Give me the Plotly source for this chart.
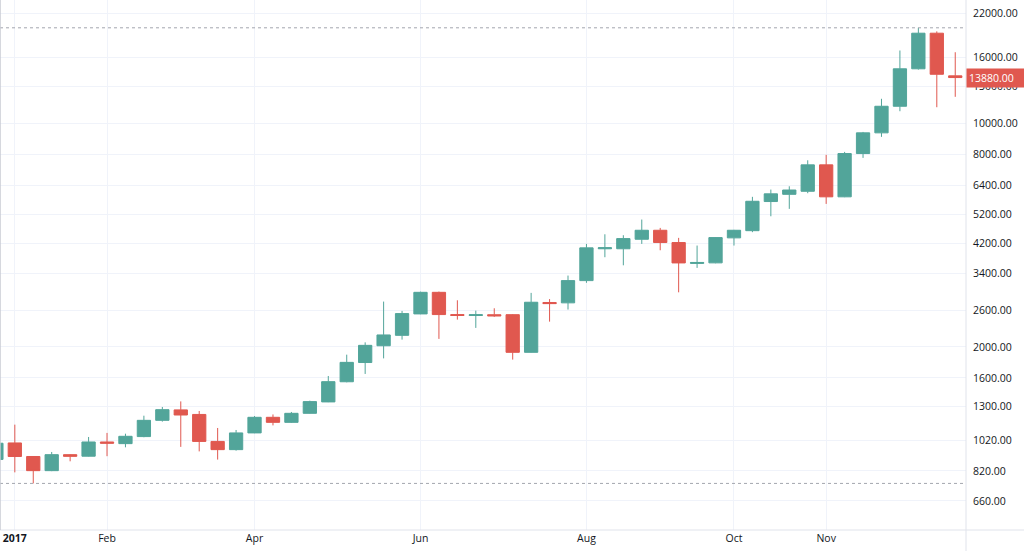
import math
import pandas as pd
import plotly.graph_objects as go

# Weekly candles (week start dates, Monday)
weeks = pd.date_range("2016-12-26", periods=53, freq="7D").strftime("%Y-%m-%d").tolist()

opens = [890, 1002, 909, 821, 921, 911, 1009, 997, 1049, 1179,
         1271, 1230, 1013, 955, 1077, 1205, 1162, 1240, 1346, 1556,
         1787, 2016, 2173, 2535, 2961, 2523, 2506, 2520, 2521, 1923,
         2752, 2745, 3221, 4050, 4050, 4337, 4627, 4236, 3645, 3660,
         4381, 4613, 5689, 5992, 6125, 7406, 5885, 8035, 9324, 11290,
         14780, 19097, 14050]
highs = [1005, 1143, 912, 939, 923, 1046, 1077, 1071, 1219, 1298,
         1351, 1261, 1116, 1100, 1216, 1230, 1252, 1358, 1622, 1891,
         2066, 2770, 2590, 2975, 2976, 2796, 2596, 2640, 2530, 2949,
         2820, 3340, 4194, 4495, 4465, 4998, 4706, 4381, 4145, 4395,
         4640, 5885, 6200, 6349, 7654, 7960, 8130, 9386, 11913, 16860,
         19850, 19350, 16654]
lows = [880, 811, 749, 818, 878, 909, 911, 971, 1044, 1168,
        974, 943, 889, 948, 1075, 1137, 1158, 1238, 1344, 1550,
        1646, 1841, 2107, 2530, 2118, 2433, 2292, 2482, 1825, 1920,
        2398, 2616, 3170, 3811, 3596, 4194, 4007, 2961, 3529, 3650,
        4145, 4564, 5117, 5397, 6040, 5593, 5870, 7788, 9059, 10894,
        14700, 11211, 12083]
closes = [1000, 909, 821, 921, 910, 1009, 1000, 1051, 1179, 1273,
          1225, 1013, 955, 1077, 1205, 1162, 1240, 1349, 1557, 1789,
          2022, 2179, 2541, 2961, 2523, 2506, 2520, 2500, 1923, 2757,
          2730, 3221, 4077, 4080, 4358, 4627, 4236, 3658, 3670, 4390,
          4627, 5700, 6013, 6180, 7406, 5885, 8035, 9324, 11290, 14780,
          19097, 14210, 13880]

month_ticks = ["2017-01-02", "2017-02-06", "2017-04-03", "2017-06-05",
               "2017-08-07", "2017-10-02", "2017-11-06"]
month_labels = ["<b>2017</b>", "Feb", "Apr", "Jun", "Aug", "Oct", "Nov"]

price_ticks = [660, 820, 1020, 1300, 1600, 2000, 2600, 3400, 4200, 5200,
               6400, 8000, 10000, 13000, 16000, 22000]
price_labels = [f"{v:.2f}" for v in price_ticks]

x_range = ["2016-12-27 09:00", "2017-12-29 02:00"]
y_range = [535.7, 24246]

UP = "#52a59a"
DOWN = "#e0584f"
GRID = "#f0f3fa"
AXIS = "#e0e3eb"
TXT = "#131722"
FONT = "Open Sans"

fig = go.Figure()

# high / low dotted markers
for level in (max(highs), min(lows)):
    fig.add_trace(go.Scatter(
        x=x_range, y=[level, level], mode="lines",
        line=dict(color="#a3a6ae", width=1, dash="dot"),
        hoverinfo="skip", showlegend=False))

fig.add_trace(go.Candlestick(
    x=weeks, open=opens, high=highs, low=lows, close=closes,
    increasing=dict(line=dict(color=UP, width=1), fillcolor=UP),
    decreasing=dict(line=dict(color=DOWN, width=1), fillcolor=DOWN),
    whiskerwidth=0, showlegend=False))

fig.update_layout(
    width=1024, height=551,
    margin=dict(l=0, r=58, t=0, b=21),
    paper_bgcolor="white", plot_bgcolor="white",
    font=dict(family=FONT, size=10.5, color=TXT),
    boxgap=0.28, boxgroupgap=0,
    showlegend=False,
    xaxis=dict(
        type="date", range=x_range,
        tickmode="array", tickvals=month_ticks, ticktext=month_labels,
        showgrid=True, gridcolor=GRID, gridwidth=1,
        zeroline=False, showline=False, ticks="",
        rangeslider=dict(visible=False),
        tickfont=dict(family=FONT, size=10.5, color=TXT),
    ),
    yaxis=dict(
        type="log", side="right",
        range=[math.log10(y_range[0]), math.log10(y_range[1])],
        tickmode="array", tickvals=price_ticks, ticktext=price_labels,
        showgrid=True, gridcolor=GRID, gridwidth=1,
        zeroline=False, showline=False, ticks="",
        ticklabelstandoff=6,
        tickfont=dict(family=FONT, size=10.5, color=TXT),
    ),
    shapes=[
        dict(type="line", xref="paper", yref="paper", x0=0, x1=1.061,
             y0=0, y1=0, line=dict(color=AXIS, width=1)),
        dict(type="line", xref="paper", yref="paper", x0=1, x1=1,
             y0=-0.04, y1=1, line=dict(color=AXIS, width=1)),
        dict(type="line", xref="paper", yref="paper", x0=0, x1=0,
             y0=0, y1=1, line=dict(color="#c8cbd3", width=1.5)),
    ],
    annotations=[
        dict(xref="paper", yref="y", x=1, y=math.log10(closes[-1]),
             xanchor="left", yanchor="middle", showarrow=False,
             text=f"{closes[-1]:.2f}", align="left",
             font=dict(family=FONT, size=10.5, color="white"),
             bgcolor=DOWN, borderpad=2, width=56),
    ],
)

fig.write_html("out.html", config={"displayModeBar": False},
               post_script="document.body.style.margin='0px';")
